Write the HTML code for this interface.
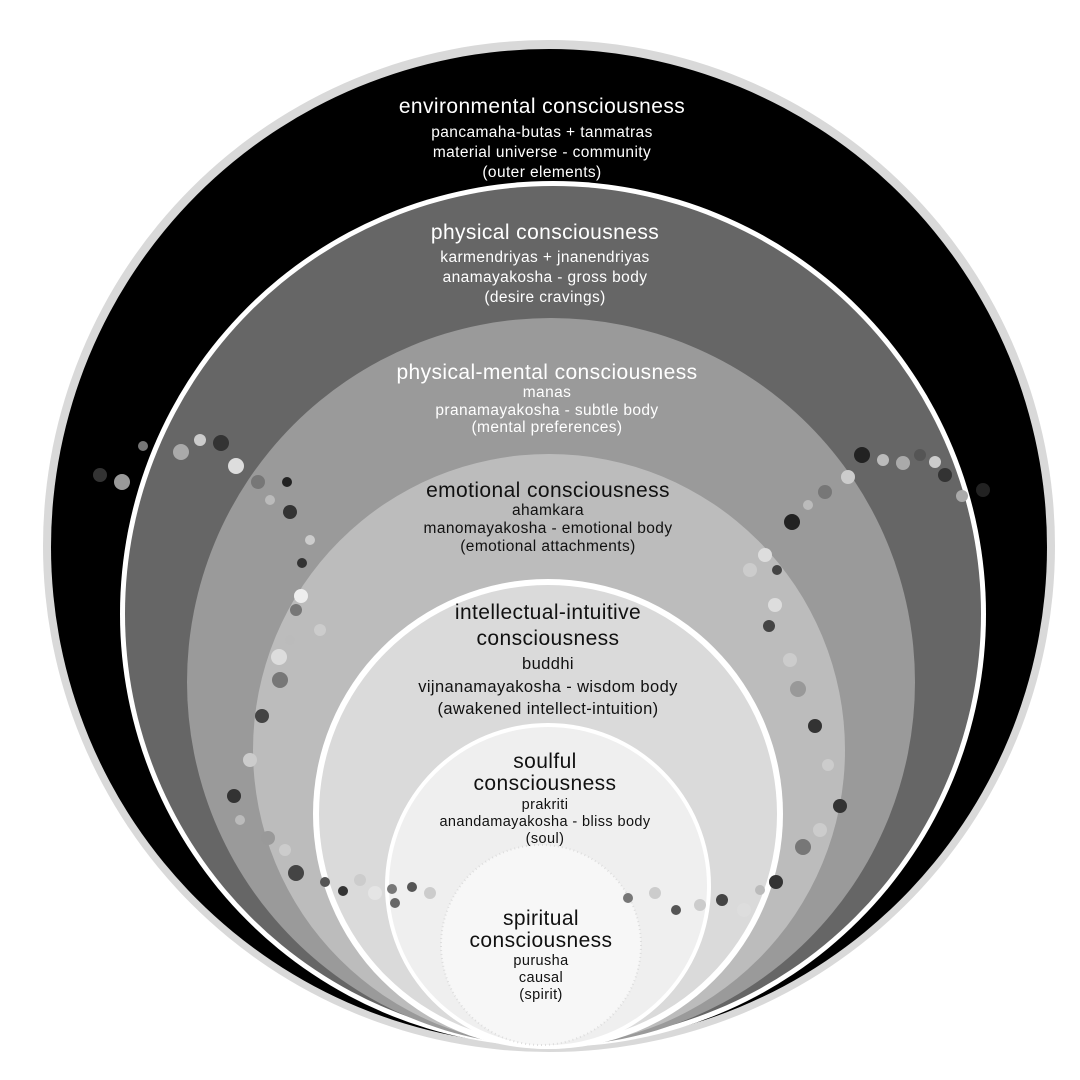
<!DOCTYPE html>
<html><head><meta charset="utf-8"><style>
html,body{margin:0;padding:0;background:#fff;}
svg{display:block;font-family:"Liberation Sans",sans-serif;}
</style></head><body>
<svg width="1080" height="1080" viewBox="0 0 1080 1080">
<circle cx="549" cy="546" r="506" fill="#d9d9d9"/>
<circle cx="549" cy="547" r="498" fill="#000"/>
<circle cx="553" cy="614" r="433" fill="#fff"/>
<circle cx="553" cy="614" r="428" fill="#666"/>
<circle cx="551" cy="682" r="364" fill="#9a9a9a"/>
<circle cx="549" cy="750" r="296" fill="#bcbcbc"/>
<circle cx="548" cy="814" r="235" fill="#fff"/>
<circle cx="548" cy="814" r="229" fill="#dadada"/>
<circle cx="548" cy="886" r="163" fill="#fff"/>
<circle cx="548" cy="886" r="159" fill="#efefef"/>
<circle cx="541" cy="945" r="100" fill="#f7f7f7" stroke="#ddd" stroke-dasharray="1 3" stroke-width="2"/>
<g>
<circle cx="100" cy="475" r="7" fill="#333"/><circle cx="122" cy="482" r="8" fill="#999"/><circle cx="143" cy="446" r="5" fill="#777"/>
<circle cx="181" cy="452" r="8" fill="#aaa"/><circle cx="221" cy="443" r="8" fill="#333"/><circle cx="236" cy="466" r="8" fill="#ddd"/>
<circle cx="258" cy="482" r="7" fill="#777"/><circle cx="287" cy="482" r="5" fill="#222"/><circle cx="290" cy="512" r="7" fill="#333"/>
<circle cx="302" cy="563" r="5" fill="#333"/><circle cx="301" cy="596" r="7" fill="#eee"/><circle cx="279" cy="657" r="8" fill="#ddd"/>
<circle cx="280" cy="680" r="8" fill="#777"/><circle cx="262" cy="716" r="7" fill="#444"/><circle cx="234" cy="796" r="7" fill="#333"/>
<circle cx="268" cy="838" r="7" fill="#999"/><circle cx="296" cy="873" r="8" fill="#444"/><circle cx="325" cy="882" r="5" fill="#555"/>
<circle cx="343" cy="891" r="5" fill="#333"/><circle cx="392" cy="889" r="5" fill="#777"/><circle cx="412" cy="887" r="5" fill="#555"/>
<circle cx="628" cy="898" r="5" fill="#777"/><circle cx="676" cy="910" r="5" fill="#555"/><circle cx="722" cy="900" r="6" fill="#444"/>
<circle cx="776" cy="882" r="7" fill="#333"/><circle cx="803" cy="847" r="8" fill="#777"/><circle cx="840" cy="806" r="7" fill="#333"/>
<circle cx="815" cy="726" r="7" fill="#333"/><circle cx="798" cy="689" r="8" fill="#999"/><circle cx="769" cy="626" r="6" fill="#444"/>
<circle cx="777" cy="570" r="5" fill="#444"/><circle cx="792" cy="522" r="8" fill="#222"/><circle cx="825" cy="492" r="7" fill="#777"/>
<circle cx="848" cy="477" r="7" fill="#ccc"/><circle cx="862" cy="455" r="8" fill="#222"/><circle cx="903" cy="463" r="7" fill="#aaa"/>
<circle cx="920" cy="455" r="6" fill="#555"/><circle cx="945" cy="475" r="7" fill="#333"/><circle cx="983" cy="490" r="7" fill="#222"/>
<circle cx="962" cy="496" r="6" fill="#aaa"/><circle cx="750" cy="570" r="7" fill="#ccc"/><circle cx="320" cy="630" r="6" fill="#ccc"/>
<circle cx="200" cy="440" r="6" fill="#ccc"/><circle cx="270" cy="500" r="5" fill="#bbb"/><circle cx="310" cy="540" r="5" fill="#ccc"/>
<circle cx="296" cy="610" r="6" fill="#777"/><circle cx="290" cy="640" r="5" fill="#bbb"/><circle cx="250" cy="760" r="7" fill="#ccc"/>
<circle cx="240" cy="820" r="5" fill="#bbb"/><circle cx="285" cy="850" r="6" fill="#ccc"/><circle cx="360" cy="880" r="6" fill="#ccc"/>
<circle cx="375" cy="893" r="7" fill="#e5e5e5"/><circle cx="430" cy="893" r="6" fill="#ccc"/><circle cx="395" cy="903" r="5" fill="#666"/>
<circle cx="655" cy="893" r="6" fill="#ccc"/><circle cx="700" cy="905" r="6" fill="#ccc"/><circle cx="744" cy="910" r="7" fill="#ddd"/>
<circle cx="760" cy="890" r="5" fill="#bbb"/><circle cx="820" cy="830" r="7" fill="#ccc"/><circle cx="828" cy="765" r="6" fill="#ccc"/>
<circle cx="790" cy="660" r="7" fill="#ccc"/><circle cx="775" cy="605" r="7" fill="#ddd"/><circle cx="765" cy="555" r="7" fill="#ddd"/>
<circle cx="808" cy="505" r="5" fill="#bbb"/><circle cx="883" cy="460" r="6" fill="#bbb"/><circle cx="935" cy="462" r="6" fill="#ccc"/>
</g>
<g text-anchor="middle" fill="#fff" letter-spacing="0.4">
<text x="542" y="113" font-size="21">environmental consciousness</text>
<text x="542" y="137" font-size="15.5">pancamaha-butas + tanmatras</text>
<text x="542" y="157" font-size="15.5">material universe - community</text>
<text x="542" y="177" font-size="15.5">(outer elements)</text>
<text x="545" y="239" font-size="21">physical consciousness</text>
<text x="545" y="262" font-size="15.5">karmendriyas + jnanendriyas</text>
<text x="545" y="282" font-size="15.5">anamayakosha - gross body</text>
<text x="545" y="302" font-size="15.5">(desire cravings)</text>
<text x="547" y="379" font-size="21">physical-mental consciousness</text>
<text x="547" y="397" font-size="15.5">manas</text>
<text x="547" y="415" font-size="15.5">pranamayakosha - subtle body</text>
<text x="547" y="432" font-size="15.5">(mental preferences)</text>
</g>
<g text-anchor="middle" fill="#111" letter-spacing="0.4">
<text x="548" y="497" font-size="21">emotional consciousness</text>
<text x="548" y="515" font-size="15.5">ahamkara</text>
<text x="548" y="533" font-size="15.5">manomayakosha - emotional body</text>
<text x="548" y="551" font-size="15.5">(emotional attachments)</text>
<text x="548" y="619" font-size="21">intellectual-intuitive</text>
<text x="548" y="645" font-size="21">consciousness</text>
<text x="548" y="669" font-size="16.5">buddhi</text>
<text x="548" y="692" font-size="16.5">vijnanamayakosha - wisdom body</text>
<text x="548" y="714" font-size="16.5">(awakened intellect-intuition)</text>
<text x="545" y="768" font-size="21">soulful</text>
<text x="545" y="790" font-size="21">consciousness</text>
<text x="545" y="809" font-size="14.5">prakriti</text>
<text x="545" y="826" font-size="14.5">anandamayakosha - bliss body</text>
<text x="545" y="843" font-size="14.5">(soul)</text>
<text x="541" y="925" font-size="21">spiritual</text>
<text x="541" y="947" font-size="21">consciousness</text>
<text x="541" y="965" font-size="14.5">purusha</text>
<text x="541" y="982" font-size="14.5">causal</text>
<text x="541" y="999" font-size="14.5">(spirit)</text>
</g>
</svg>
</body></html>
